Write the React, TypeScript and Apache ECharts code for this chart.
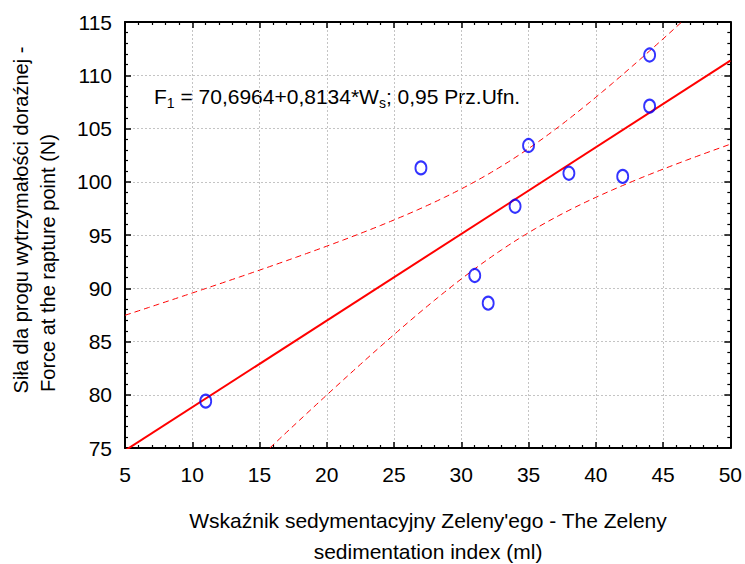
import React, { useEffect, useRef } from "react";
import * as echarts from "echarts";

const xValues = [11, 27, 31, 32, 34, 35, 38, 42, 44, 44];
const yValues = [79.4, 101.3, 91.2, 88.6, 97.7, 103.4, 100.8, 100.5, 111.9, 107.1];

// Regression equation shown on the chart
const INTERCEPT = 70.6964;
const SLOPE = 0.8134;
const T_975_DF8 = 2.306; // Student t quantile, 0.95 confidence, n-2 = 8 df

const xTicksMin = 5;
const xTicksMax = 50;
const yTicksMin = 75;
const yTicksMax = 115;

const FONT = "Liberation Sans, Arial, sans-serif";

function buildBands() {
  const n = xValues.length;
  const mx = xValues.reduce((a, b) => a + b, 0) / n;
  const sxx = xValues.reduce((a, x) => a + (x - mx) * (x - mx), 0);
  const sse = xValues.reduce((a, x, i) => {
    const r = yValues[i] - (INTERCEPT + SLOPE * x);
    return a + r * r;
  }, 0);
  const s = Math.sqrt(sse / (n - 2));
  const upper: number[][] = [];
  const lower: number[][] = [];
  for (let x = xTicksMin; x <= xTicksMax + 1e-9; x += 0.25) {
    const fit = INTERCEPT + SLOPE * x;
    const hw = T_975_DF8 * s * Math.sqrt(1 / n + ((x - mx) * (x - mx)) / sxx);
    upper.push([x, fit + hw]);
    lower.push([x, fit - hw]);
  }
  return { upper, lower };
}

export default function App() {
  const ref = useRef<HTMLDivElement>(null);
  useEffect(() => {
    if (!ref.current) return;
    const chart = echarts.init(ref.current, undefined, { renderer: "svg" });
    const { upper, lower } = buildBands();
    const fitLine = [
      [xTicksMin, INTERCEPT + SLOPE * xTicksMin],
      [xTicksMax, INTERCEPT + SLOPE * xTicksMax],
    ];
    const axisLine = { show: true, onZero: false, lineStyle: { color: "#000", width: 2 } };
    const axisTick = { show: true, inside: true, length: 6, lineStyle: { color: "#000", width: 1.5 } };
    const minorTick = { show: true, splitNumber: 5, length: 3, lineStyle: { color: "#000", width: 1.2 } };
    const split = { show: true, lineStyle: { color: "#c4c4c4", width: 1, type: [2, 2] as any } };
    const label = { color: "#000", fontSize: 21, fontFamily: FONT };

    chart.setOption({
      animation: false,
      backgroundColor: "#fff",
      grid: { left: 125, right: 13, top: 22, bottom: 116, containLabel: false },
      xAxis: [
        {
          type: "value", min: xTicksMin, max: xTicksMax, interval: 5, position: "bottom",
          axisLine, axisTick, minorTick, splitLine: split,
          axisLabel: { ...label, margin: 16 },
        },
        {
          type: "value", min: xTicksMin, max: xTicksMax, interval: 5, position: "top",
          axisLine, axisTick, minorTick, splitLine: { show: false },
          axisLabel: { show: false },
        },
      ],
      yAxis: [
        {
          type: "value", min: yTicksMin, max: yTicksMax, interval: 5, position: "left",
          axisLine, axisTick, minorTick, splitLine: split,
          axisLabel: { ...label, margin: 13 },
        },
        {
          type: "value", min: yTicksMin, max: yTicksMax, interval: 5, position: "right",
          axisLine, axisTick, minorTick, splitLine: { show: false },
          axisLabel: { show: false },
        },
      ],
      series: [
        {
          type: "line", data: upper, showSymbol: false, symbol: "none", clip: true,
          lineStyle: { color: "#ff0000", width: 1, type: [6, 4] }, z: 3,
        },
        {
          type: "line", data: lower, showSymbol: false, symbol: "none", clip: true,
          lineStyle: { color: "#ff0000", width: 1, type: [6, 4] }, z: 3,
        },
        {
          type: "line", data: fitLine, showSymbol: false, symbol: "none", clip: true,
          lineStyle: { color: "#ff0000", width: 2 }, z: 4,
        },
        {
          type: "scatter",
          data: xValues.map((x, i) => [x, yValues[i]]),
          symbol: "circle", symbolSize: [11, 13],
          itemStyle: { color: "rgba(255,255,255,0)", borderColor: "#0000ff", borderWidth: 2 },
          z: 5,
        },
      ],
      graphic: [
        {
          type: "text", x: 154, y: 96,
          style: {
            text: "{n|F}{s|1}{n| = 70,6964+0,8134*W}{s|s}{n|; 0,95 Prz.Ufn.}",
            textVerticalAlign: "middle", textAlign: "left",
            rich: {
              n: { fontSize: 21, fontFamily: FONT, fill: "#000" },
              s: { fontSize: 14, fontFamily: FONT, fill: "#000", padding: [13, 0, 0, 0] },
            },
          } as any,
        },
        {
          type: "text", x: 428, y: 520,
          style: { text: "Wskaźnik sedymentacyjny Zeleny'ego - The Zeleny", fontSize: 21, fontFamily: FONT, fill: "#000", textAlign: "center", textVerticalAlign: "middle" } as any,
        },
        {
          type: "text", x: 428, y: 551,
          style: { text: "sedimentation index (ml)", fontSize: 21, fontFamily: FONT, fill: "#000", textAlign: "center", textVerticalAlign: "middle" } as any,
        },
        {
          type: "text", x: 21, y: 220, rotation: Math.PI / 2,
          style: { text: "Siła dla progu wytrzymałości doraźnej -", fontSize: 20, fontFamily: FONT, fill: "#000", textAlign: "center", textVerticalAlign: "middle" } as any,
        },
        {
          type: "text", x: 48, y: 263, rotation: Math.PI / 2,
          style: { text: "Force at the rapture point (N)", fontSize: 20, fontFamily: FONT, fill: "#000", textAlign: "center", textVerticalAlign: "middle" } as any,
        },
      ],
    });
    return () => chart.dispose();
  }, []);
  return (
    <div
      ref={ref}
      style={{ position: "fixed", left: 0, top: 0, width: 745, height: 564, background: "#fff" }}
    />
  );
}
